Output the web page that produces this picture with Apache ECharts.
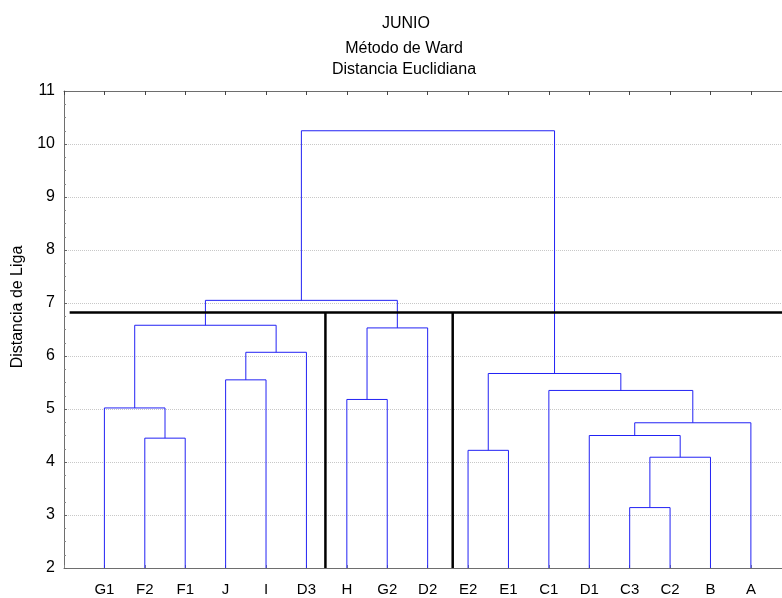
<!DOCTYPE html>
<html lang="es">
<head>
    <meta charset="UTF-8">
    <title>JUNIO - Método de Ward</title>
    <script src="https://cdn.jsdelivr.net/npm/echarts@6/dist/echarts.min.js"></script>
    <style>
        body { margin: 0; background: #fff; }
        #chart { width: 782px; height: 598px; }
    </style>
</head>
<body>
    <div id="chart"></div>
    <script>
        // hojas del dendrograma (orden del eje X)
        const leaves = ['G1', 'F2', 'F1', 'J', 'I', 'D3', 'H', 'G2', 'D2', 'E2', 'E1', 'C1', 'D1', 'C3', 'C2', 'B', 'A'];

        // uniones: [nodo izquierdo, nodo derecho] (índices de hoja 0..16, luego uniones 17..)
        const mergePairs = [
            [1, 2], [0, 17], [3, 4], [19, 5], [18, 20],
            [6, 7], [22, 8], [21, 23],
            [9, 10], [13, 14], [26, 15], [12, 27], [28, 16], [11, 29], [25, 30],
            [24, 31]
        ];
        // distancia de liga de cada unión
        const mergeHeights = [
            4.45, 5.02, 5.55, 6.07, 6.58,
            5.18, 6.53, 7.05,
            4.22, 3.14, 4.09, 4.50, 4.74, 5.35, 5.67,
            10.25
        ];

        // línea de corte y separadores de grupos
        const cutHeight = 6.82;
        const cutStart = -0.86;
        const cutEnd = 16.77;
        const separators = [5.47, 8.62];

        const yTicks = [2, 3, 4, 5, 6, 7, 8, 9, 10, 11];

        const blue = '#2222f4';
        const font = '"Liberation Sans", Arial, sans-serif';

        // posición x y altura de cada nodo
        const nodeX = leaves.map((_, i) => i);
        const nodeH = leaves.map(() => yTicks[0]);
        const series = [];
        mergePairs.forEach(([a, b], k) => {
            const h = mergeHeights[k];
            series.push({
                type: 'line',
                symbol: 'none',
                silent: true,
                lineStyle: { color: blue, width: 1 },
                data: [[nodeX[a], nodeH[a]], [nodeX[a], h], [nodeX[b], h], [nodeX[b], nodeH[b]]],
                z: 2
            });
            nodeX.push((nodeX[a] + nodeX[b]) / 2);
            nodeH.push(h);
        });

        // línea de corte
        series.push({
            type: 'line', symbol: 'none', silent: true,
            lineStyle: { color: '#000', width: 2.5 },
            data: [[cutStart, cutHeight], [cutEnd, cutHeight]],
            z: 3
        });
        separators.forEach(x => {
            series.push({
                type: 'line', symbol: 'none', silent: true,
                lineStyle: { color: '#000', width: 2.5 },
                data: [[x, cutHeight], [x, yTicks[0]]],
                z: 3
            });
        });

        const titleStyle = { fontFamily: font, fontSize: 16, fontWeight: 'normal', color: '#000' };

        const chart = echarts.init(document.getElementById('chart'));
        chart.setOption({
            animation: false,
            title: [
                { text: 'JUNIO', left: 401, top: 11, textAlign: 'center', textStyle: titleStyle },
                { text: 'Método de Ward', left: 399, top: 36, textAlign: 'center', textStyle: titleStyle },
                { text: 'Distancia Euclidiana', left: 399, top: 57, textAlign: 'center', textStyle: titleStyle }
            ],
            graphic: [{
                type: 'text',
                x: 10, y: 307,
                rotation: Math.PI / 2,
                style: {
                    text: 'Distancia de Liga',
                    font: '16px ' + font,
                    fill: '#000',
                    align: 'center',
                    verticalAlign: 'top'
                }
            }],
            grid: { left: 64, top: 91, width: 718, height: 477, outerBoundsMode: 'none' },
            xAxis: [{
                type: 'value',
                min: -1, max: cutEnd, interval: 1,
                position: 'bottom',
                axisLine: { onZero: false, lineStyle: { color: '#6e6e6e', width: 1 } },
                axisTick: { inside: true, length: 3, lineStyle: { color: '#888' } },
                splitLine: { show: false },
                axisLabel: {
                    margin: 14,
                    showMaxLabel: false,
                    fontFamily: font, fontSize: 15, color: '#000',
                    formatter: v => leaves[v] || ''
                }
            }, {
                type: 'value',
                min: -1, max: cutEnd, interval: 1,
                position: 'top',
                axisLine: { onZero: false, lineStyle: { color: '#6e6e6e', width: 1 } },
                axisTick: { inside: true, length: 4, lineStyle: { color: '#444' } },
                splitLine: { show: false },
                axisLabel: { show: false }
            }],
            yAxis: {
                type: 'value',
                min: yTicks[0], max: yTicks[yTicks.length - 1], interval: 1,
                axisLine: { show: true, onZero: false, lineStyle: { color: '#6e6e6e', width: 1 } },
                axisTick: { show: true, inside: true, length: 3, lineStyle: { color: '#666' } },
                minorTick: { show: true, splitNumber: 4, length: 2, lineStyle: { color: '#888' } },
                axisLabel: { margin: 9, fontFamily: font, fontSize: 16, color: '#000' },
                splitLine: { show: true, lineStyle: { color: '#c8c8c8', type: 'dotted', width: 1 } }
            },
            series: series
        });
    </script>
</body>
</html>
